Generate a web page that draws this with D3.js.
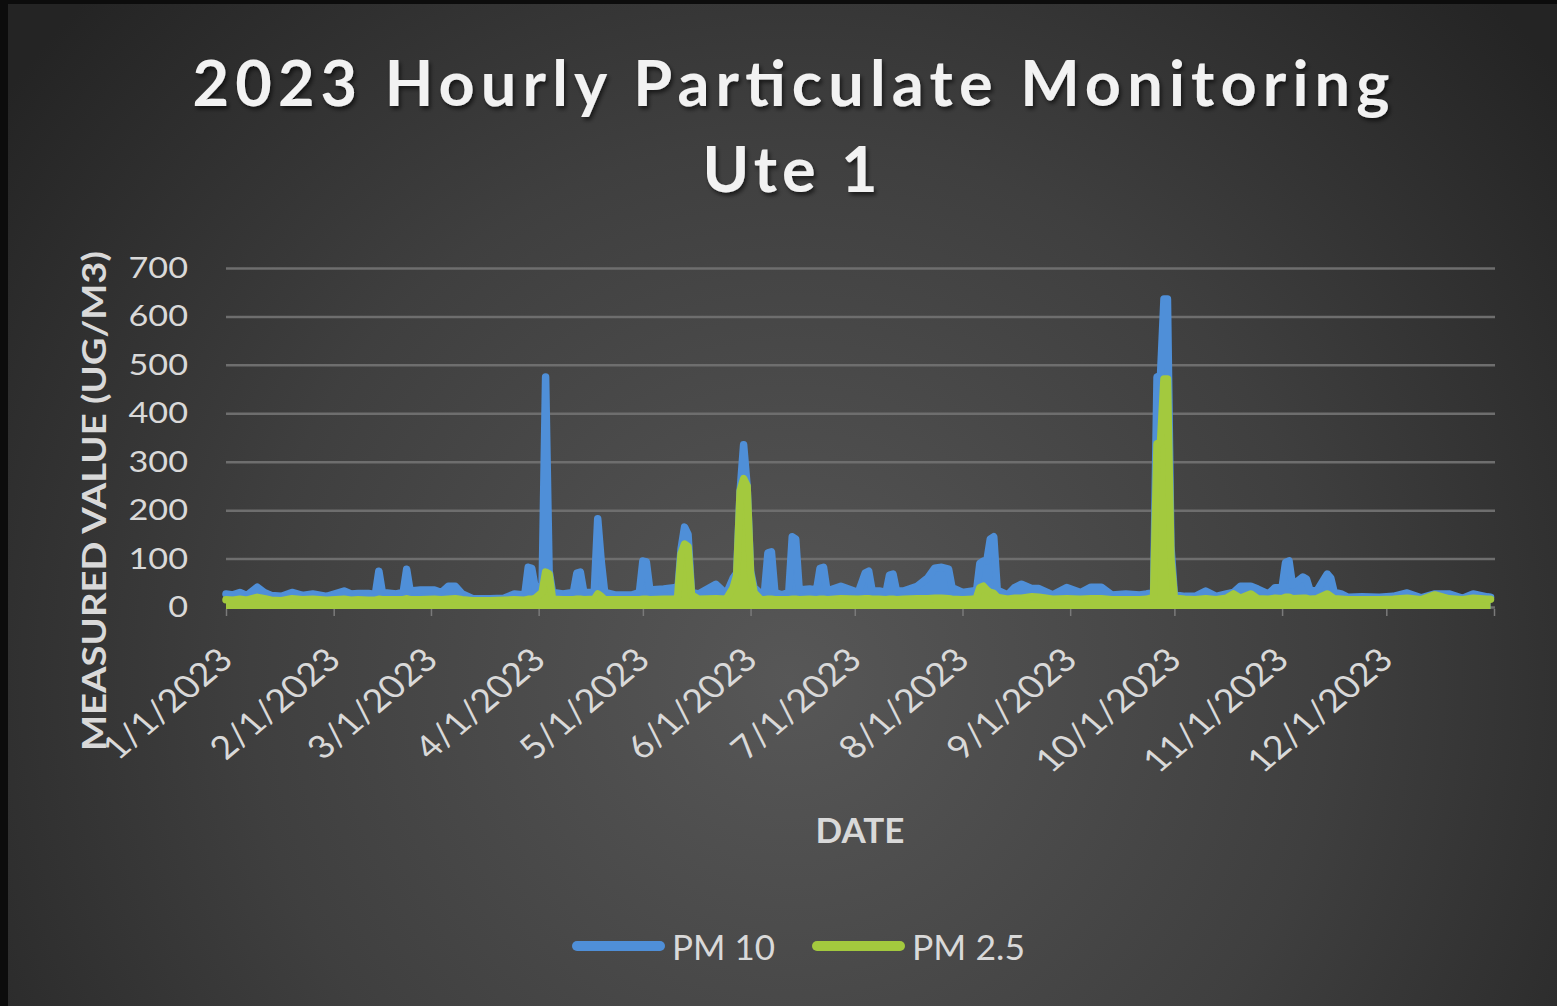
<!DOCTYPE html>
<html>
<head>
<meta charset="utf-8">
<script src="https://cdn.jsdelivr.net/npm/d3@7/dist/d3.min.js"></script>
<style>
  html, body { margin: 0; padding: 0; background: #0c0c0c; }
  svg { display: block; }
</style>
</head>
<body>
<svg id="chart"></svg>
<script>
// readings (daily peaks of the hourly line), 2023
var dates = ["1/1","1/3","1/5","1/7","1/10","1/12","1/14","1/17","1/20","1/23","1/26","1/30",
  "2/4","2/6","2/8","2/11","2/13","2/14","2/15","2/19","2/21","2/22","2/23","2/26",
  "3/2","3/4","3/6","3/8","3/10","3/13","3/18","3/22","3/25","3/28","3/29","3/30","3/31",
  "4/2","4/3","4/4","4/5","4/8","4/11","4/12","4/13","4/14","4/17","4/18","4/19","4/20","4/23","4/28","4/30",
  "5/1","5/2","5/3","5/7","5/10","5/11","5/12","5/13","5/14","5/15","5/17","5/22","5/25","5/27","5/28","5/29","5/30","5/31",
  "6/1","6/2","6/4","6/5","6/6","6/7","6/8","6/10","6/12","6/13","6/14","6/15","6/18","6/20","6/21","6/22","6/23","6/27",
  "7/2","7/4","7/5","7/6","7/8","7/10","7/11","7/12","7/13","7/15","7/19","7/22","7/24","7/26","7/28","7/29",
  "8/1","8/4","8/5","8/6","8/7","8/8","8/9","8/10","8/11","8/14","8/16","8/18","8/21","8/23","8/27","8/31",
  "9/4","9/7","9/10","9/13","9/17","9/21","9/23","9/25","9/26","9/27","9/28","9/29","9/30",
  "10/1","10/4","10/7","10/10","10/13","10/16","10/18","10/20","10/23","10/25","10/28","10/30",
  "11/1","11/2","11/3","11/4","11/7","11/8","11/9","11/11","11/14","11/15","11/16","11/18","11/20","11/24","11/29",
  "12/3","12/7","12/11","12/15","12/19","12/23","12/26","12/30","12/31"];

var pm10 = [27,25,30,24,41,30,24,22,30,24,27,22,
  33,27,28,28,26,74,30,27,30,78,33,35,
  35,30,43,43,27,17,17,18,27,25,82,80,40,
  45,475,75,30,27,30,70,72,30,30,182,95,30,25,25,30,
  95,93,35,37,40,30,120,165,150,30,27,47,27,60,70,240,335,250,
  75,40,27,30,112,114,30,25,30,145,140,35,37,35,80,82,33,43,
  30,70,74,33,33,30,66,68,33,33,43,60,80,82,78,40,
  30,33,30,90,95,95,140,145,35,25,40,47,38,38,25,40,
  30,41,41,25,27,25,27,30,475,478,636,636,126,
  25,22,22,33,22,27,30,43,43,37,27,40,
  40,92,95,45,62,58,35,33,68,60,30,27,20,21,20,
  22,29,19,27,27,18,27,21,20];

var pm25 = [15,14,16,14,20,17,14,13,17,15,16,14,
  16,14,15,14,14,16,15,15,15,17,15,15,
  16,15,16,17,15,13,13,14,15,14,16,16,18,
  30,72,68,16,15,15,16,16,15,16,27,22,15,15,15,15,
  16,16,15,16,16,20,110,130,125,25,16,17,16,40,65,240,265,250,
  70,30,15,15,16,16,15,15,15,16,16,15,16,15,16,16,15,17,
  16,17,17,16,16,15,16,16,15,16,17,17,18,18,17,16,
  15,16,18,40,43,35,30,28,20,16,18,18,21,20,16,17,
  16,17,17,15,15,15,16,20,337,340,471,471,100,
  18,16,15,17,15,18,27,18,27,17,16,18,
  17,20,20,17,18,18,16,17,27,22,17,16,15,15,15,
  16,18,15,25,17,15,18,16,16];

var yTicks = [0, 100, 200, 300, 400, 500, 600, 700];
var seriesNames = ["PM 10", "PM 2.5"];
var colors = {"PM 10": "#4f8fd8", "PM 2.5": "#a3c93e"};

var width = 1557, height = 1006;
var stretch = 1.18; // the picture is widened a little, text included
var parse = d3.timeParse("%m/%d/%Y");

var svg = d3.select("#chart").attr("width", width).attr("height", height);
var defs = svg.append("defs");

var grad = defs.append("radialGradient")
    .attr("id", "bg")
    .attr("gradientUnits", "userSpaceOnUse")
    .attr("cx", 790).attr("cy", 680).attr("r", 980);
grad.append("stop").attr("offset", 0).attr("stop-color", "#575757");
grad.append("stop").attr("offset", 0.55).attr("stop-color", "#3f3f3f");
grad.append("stop").attr("offset", 1).attr("stop-color", "#242424");

var shadow = defs.append("filter").attr("id", "shadow")
    .attr("x", "-5%").attr("y", "-20%").attr("width", "110%").attr("height", "150%");
shadow.append("feDropShadow")
    .attr("dx", 2).attr("dy", 3).attr("stdDeviation", 2)
    .attr("flood-color", "#000").attr("flood-opacity", 0.6);

svg.append("rect")
    .attr("x", 8).attr("y", 4)
    .attr("width", width - 8).attr("height", height - 4)
    .style("fill", "url(#bg)");

var x = d3.scaleTime()
    .domain([new Date(2023, 0, 1), new Date(2024, 0, 1)])
    .range([226, 1494]);
var y = d3.scaleLinear()
    .domain([0, 700])
    .range([607, 268]);

// gridlines
svg.append("g")
    .attr("transform", "translate(226,0)")
    .call(d3.axisLeft(y).tickValues(yTicks).tickSize(-1269).tickFormat(""))
    .call(function (g) {
        g.select(".domain").remove();
        g.selectAll("line").style("stroke", "#6e6e6e").style("stroke-width", 2.5);
    });

// y tick labels
svg.append("g").selectAll("text")
    .data(yTicks)
    .enter().append("text")
    .attr("transform", function (d) { return "translate(188," + (y(d) + 10) + ") scale(" + stretch + ",1)"; })
    .attr("text-anchor", "end")
    .style("font-family", "Lato, sans-serif")
    .style("font-size", "29px")
    .style("fill", "#d9d9d9")
    .text(function (d) { return d; });

// x ticks
var months = d3.timeMonth.range(new Date(2023, 0, 1), new Date(2024, 0, 2));
svg.append("g")
    .attr("transform", "translate(0,609)")
    .call(d3.axisBottom(x).tickValues(months).tickSize(7).tickFormat(""))
    .call(function (g) {
        g.select(".domain").remove();
        g.selectAll("line").style("stroke", "#7a7a7a").style("stroke-width", 1.5);
    });

var fmt = d3.timeFormat("%-m/%-d/%Y");
svg.append("g").selectAll("text")
    .data(months.slice(0, 12))
    .enter().append("text")
    .attr("transform", function (d) { return "translate(" + (x(d) + 9) + ",662) scale(" + stretch + ",1) rotate(-45)"; })
    .attr("text-anchor", "end")
    .style("font-family", "Lato, sans-serif")
    .style("font-size", "32px")
    .style("fill", "#d9d9d9")
    .text(function (d) { return fmt(d); });

// series
var rows = dates.map(function (d, i) {
    return {date: parse(d + "/2023"), "PM 10": pm10[i], "PM 2.5": pm25[i]};
});

seriesNames.forEach(function (name) {
    var area = d3.area()
        .x(function (d) { return x(d.date); })
        .y0(y(0) + 2)
        .y1(function (d) { return y(d[name]); });
    var line = d3.line()
        .x(function (d) { return x(d.date); })
        .y(function (d) { return y(d[name]); });
    svg.append("path").datum(rows).attr("d", area).style("fill", colors[name]);
    svg.append("path").datum(rows).attr("d", line)
        .style("fill", "none")
        .style("stroke", colors[name])
        .style("stroke-width", 7.5)
        .style("stroke-linejoin", "round")
        .style("stroke-linecap", "round");
});

// titles
function fitText(sel, w, mode) {
    sel.attr("textLength", w).attr("lengthAdjust", mode || "spacingAndGlyphs");
}
svg.append("text")
    .attr("x", 791).attr("y", 106)
    .attr("text-anchor", "middle")
    .style("font-family", "Lato, sans-serif").style("font-weight", "bold")
    .style("font-size", "63px").style("fill", "#f2f2f2")
    .attr("filter", "url(#shadow)")
    .text("2023 Hourly Particulate Monitoring")
    .call(fitText, 1197, "spacing");
svg.append("text")
    .attr("x", 790).attr("y", 192)
    .attr("text-anchor", "middle")
    .style("font-family", "Lato, sans-serif").style("font-weight", "bold")
    .style("font-size", "63px").style("fill", "#f2f2f2")
    .attr("filter", "url(#shadow)")
    .text("Ute 1")
    .call(fitText, 175, "spacing");

svg.append("text")
    .attr("transform", "translate(106,501) rotate(-90)")
    .attr("text-anchor", "middle")
    .style("font-family", "Lato, sans-serif").style("font-weight", "bold")
    .style("font-size", "32px").style("fill", "#d9d9d9")
    .text("MEASURED VALUE (UG/M3)")
    .call(fitText, 500);

svg.append("text")
    .attr("x", 860).attr("y", 843)
    .attr("text-anchor", "middle")
    .style("font-family", "Lato, sans-serif").style("font-weight", "bold")
    .style("font-size", "34px").style("fill", "#d9d9d9")
    .text("DATE")
    .call(fitText, 89);

// legend
var legendPos = [{name: "PM 10", x: 577, w: 103}, {name: "PM 2.5", x: 817, w: 113}];
var lg = svg.append("g").selectAll("g").data(legendPos).enter().append("g");
lg.append("line")
    .attr("x1", function (d) { return d.x; })
    .attr("x2", function (d) { return d.x + 83; })
    .attr("y1", 946).attr("y2", 946)
    .style("stroke", function (d) { return colors[d.name]; })
    .style("stroke-width", 10)
    .style("stroke-linecap", "round");
lg.append("text")
    .attr("x", function (d) { return d.x + 95; })
    .attr("y", 960)
    .style("font-family", "Lato, sans-serif")
    .style("font-size", "34px").style("fill", "#d9d9d9")
    .attr("textLength", function (d) { return d.w; })
    .attr("lengthAdjust", "spacingAndGlyphs")
    .text(function (d) { return d.name; });
</script>
</body>
</html>
